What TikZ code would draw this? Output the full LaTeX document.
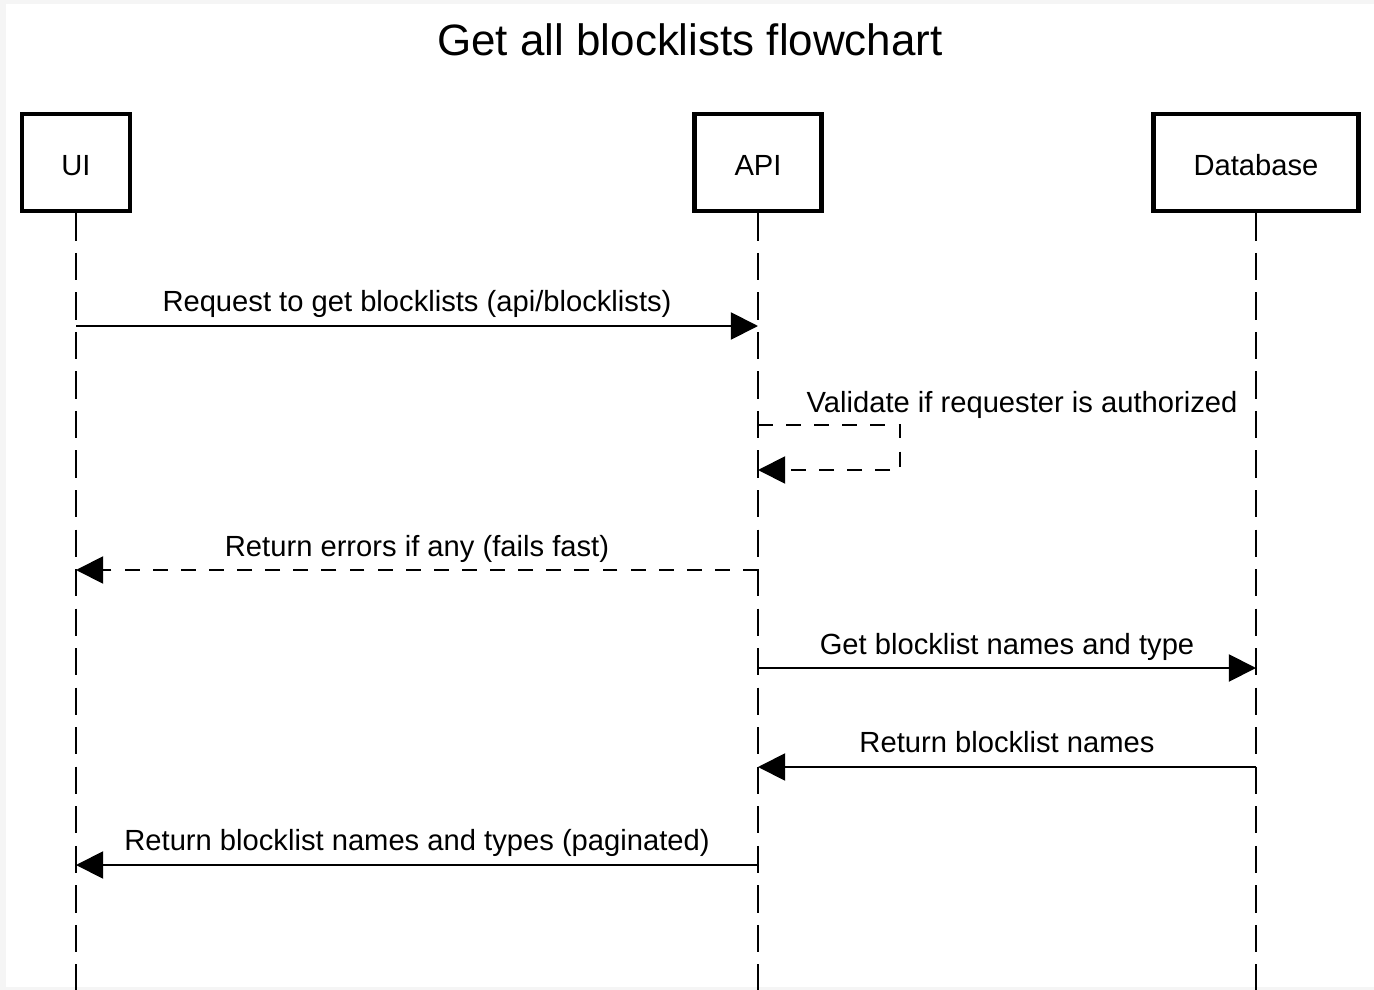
\documentclass[tikz,border=0pt]{standalone}
\usepackage{fontspec}
\setmainfont{Liberation Sans}
\usetikzlibrary{arrows.meta}

\begin{document}
\begin{tikzpicture}[x=0.02cm,y=-0.02cm,
    >={Triangle[length=15.5pt,width=15.5pt]},
    actor/.style={draw,line width=2.6pt,minimum height=97*0.02cm,text height=14.7pt,text depth=0pt,font=\fontsize{16.6}{18}\selectfont},
    life/.style={line width=1.2pt,dash pattern=on 15.5pt off 7pt},
    msg/.style={line width=1.1pt,->},
    reply/.style={line width=1.1pt,->,dash pattern=on 8.5pt off 7.5pt},
    lbl/.style={anchor=base,font=\fontsize{16.6}{18}\selectfont}]
  % page
  \fill[black!4] (0,0) rectangle (1374,990);
  \fill[white] (6,4) rectangle (1374,987);
  \useasboundingbox (0,0) rectangle (1374,990);
  \node[anchor=base,font=\fontsize{25}{28}\selectfont] (title) at (690,56) {Get all blocklists flowchart};
  % actors
  \node[actor,minimum width=108*0.02cm] (ui) at (76,162.5) {UI};
  \node[actor,minimum width=127*0.02cm] (api) at (758,162.5) {API};
  \node[actor,minimum width=205*0.02cm] (db) at (1256,162.5) {Database};
  \coordinate (uiend) at (76,990);
  \coordinate (apiend) at (758,990);
  \coordinate (dbend) at (1256,990);
  \draw[life] (ui.south) -- (uiend);
  \draw[life] (api.south) -- (apiend);
  \draw[life] (db.south) -- (dbend);
  % points on the lifelines
  \coordinate (u1) at (76,326);   \coordinate (a1) at (758,326);
  \coordinate (a2) at (758,425);  \coordinate (a3) at (758,470);
  \coordinate (s1) at (900,425);  \coordinate (s2) at (900,470);
  \coordinate (u4) at (76,570);   \coordinate (a4) at (758,570);
  \coordinate (a5) at (758,668);  \coordinate (d5) at (1256,668);
  \coordinate (a6) at (758,767);  \coordinate (d6) at (1256,767);
  \coordinate (u7) at (76,865);   \coordinate (a7) at (758,865);
  % messages
  \draw[msg] (u1) -- (a1);
  \node[lbl] (t1) at (417,312) {Request to get blocklists (api/blocklists)};
  \draw[reply] (a2) -- (s1) -- (s2) -- (a3);
  \node[lbl] (t2) at (1022,412) {Validate if requester is authorized};
  \draw[reply] (a4) -- (u4);
  \node[lbl] (t3) at (417,556) {Return errors if any (fails fast)};
  \draw[msg] (a5) -- (d5);
  \node[lbl] (t4) at (1007,654) {Get blocklist names and type};
  \draw[msg] (d6) -- (a6);
  \node[lbl] (t5) at (1007,752) {Return blocklist names};
  \draw[msg] (a7) -- (u7);
  \node[lbl] (t6) at (417,850) {Return blocklist names and types (paginated)};
\end{tikzpicture}
\end{document}
